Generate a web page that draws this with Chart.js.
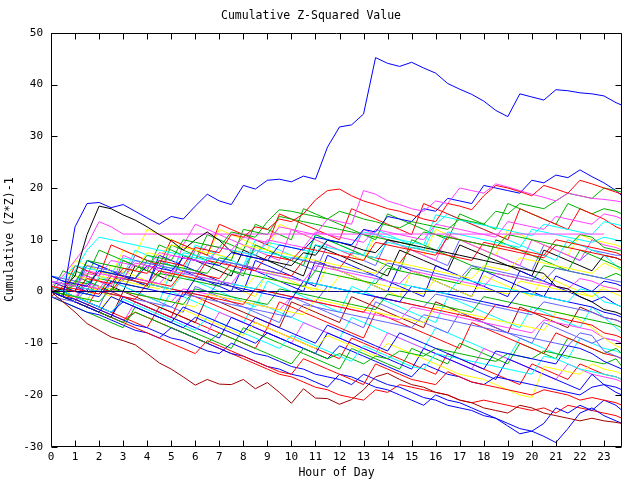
<!DOCTYPE html>
<html>
<head>
<meta charset="utf-8">
<script src="https://cdn.jsdelivr.net/npm/chart.js@4"></script>
<style>
  html, body { margin: 0; padding: 0; background: #fff; }
</style>
</head>
<body>
<canvas id="chart" width="640" height="480"></canvas>
<script>
// sample times (hours), one value every half hour, last one at 23:45
const hours = [0,0.5, 1,1.5, 2,2.5, 3,3.5, 4,4.5, 5,5.5, 6,6.5, 7,7.5, 8,8.5, 9,9.5, 10,10.5, 11,11.5,
  12,12.5, 13,13.5, 14,14.5, 15,15.5, 16,16.5, 17,17.5, 18,18.5, 19,19.5, 20,20.5, 21,21.5, 22,22.5, 23,23.5, 23.75];
const hourTicks = [0,1,2,3,4,5,6,7,8,9,10,11,12,13,14,15,16,17,18,19,20,21,22,23];
const yTicks = [-30,-20,-10,0,10,20,30,40,50];

// cumulative (Z*Z)-1 per sensor
const blueSpike = [0,-1, 12.5,17, 17.2,16.2, 16.8,15.5, 14.2,13, 14.5,14, 16.5,18.8, 17.5,16.8, 20.5,19.8, 21.5,21.7, 21.2,22.3, 21.7,27.9, 31.8,32.2, 34.3,45.2, 44.1,43.5, 44.3,43.2, 42.2,40.2, 39.1,38.1, 36.8,35, 33.8,38.2, 37.6,37, 39,38.8, 38.4,38.2, 37.8,36.5, 36];
const darkRed = [0,-2, -4,-6.2, -7.5,-8.8, -9.5,-10.3, -12,-13.8, -15,-16.5, -18.1,-17, -17.9,-18, -17,-18.8, -17.6,-19.5, -21.6,-18.8, -20.6,-20.7, -21.8,-20.9, -19,-16.5, -15.8,-17, -18,-18.5, -19.5,-20, -21,-21.5, -22.5,-23, -23.5,-22, -22.5,-23.5, -24,-24.5, -25,-24.5, -25,-25.3, -25.5];
const redTop = [1,0.5, 0,2.5, 2,1.5, 4.5,4, 3.5,6, 5.5,5, 8.5,8, 7.5,11, 10.5,12.5, 12,14, 13.5,15, 17.7,19.5, 19.8,18.5, 17.5,16.8, 16,15.5, 14.8,14, 13.5,17, 16.5,15.8, 18.5,20.5, 20,19.3, 18.5,20.5, 19.8,19, 21.5,20.8, 20,19.2, 18.8];
const pinkTop = [2,1.5, 1,4, 3.5,3, 2.5,5.5, 5,4.5, 7,6.5, 6,5.5, 8.5,8, 10.5,10, 9.5,12.5, 12,11.5, 11,14, 13.5,13, 19.5,18.8, 17.5,16.8, 16,15.5, 17.5,17, 20,19.5, 19,20.8, 20.2,19.5, 18.8,18.2, 17.5,19, 18.5,18, 17.8,17.5, 17.3];
const greenTop = [0,-0.5, 1.5,6, 5.5,5, 4.5,4, 7,6.5, 6,10, 9.5,9, 8.5,11.5, 11,10.5, 13.5,15.8, 15.5,15, 14.5,14, 15.5,14.8, 14,13.5, 12.8,12.3, 13.5,13, 12.5,12, 14,13.5, 13,15.5, 15,17, 16.5,16, 17.5,19, 18.5,18, 20,19.5, 19.2];
const blueHigh = [3,2, 1.5,1, 4,3.5, 3,2.5, 5,4.5, 4,6.5, 6,5.5, 5,7.5, 7,6.5, 6,9, 8.5,8, 10.5,10, 9.5,9, 12,11.5, 14.5,14, 13.5,16, 15.5,18, 17.5,17, 20.5,20, 19.5,19, 21.5,21, 22.5,22, 23.5,22.2, 21,19.5, 18.5];
const blackLine = [0,0.5, 3,11, 16.5,16, 14.8,13.8, 12.5,11, 9.8,8, 10,11.5, 9.9,7.7, 7,6.5, 6,5.5, 5,7.5, 7,9.9, 9.5,8.8, 8,7.5, 10,9.5, 9,8.5, 8,7.5, 7,6.5, 6,5.5, 5,4.5, 4,3.5, 1,0.5, -1,-2, -3.5,-4, -4.5];
const pinkFlat = [1,3, 6,9, 13.5,12.5, 11.1,11.1, 11.1,11.1, 11.1,11.1, 11.1,11.1, 11.1,11.1, 11.1,11.1, 11.1,11.1, 11.1,11.1, 11.1,11.1, 11.1,11.1, 11.1,11.1, 11.1,11.1, 11.1,11.1, 11.1,11.1, 11.1,11.1, 11.1,11.1, 11.1,11.1, 11.1,11.1, 11.1,11.1, 11.1,11.1, 11.1];
const navyZero = [0,0, 0,0, 0,0, 0,0, 0,0, 0,0, 0,0, 0,0, 0,0, 0,0, 0,0, 0,0, 0,0, 0,0, 0,0, 0,0, 0,0, 0,0, 0,0, 0,0, 0,0, 0,0, 0,0, 0,0, 0];
const cyanA = [2,1.5, 4,8, 10.5,10, 9.5,9, 8.5,8, 7.5,7, 6.5,6, 8.5,8, 7.5,7, 9.5,9, 8.5,8, 7.5,10, 9.5,9, 11.5,11, 10.5,10, 9.5,9, 14.8,14.3, 13.8,13.3, 12.8,12.3, 11.8,11.3, 10.8,13, 12.5,12, 11.5,11, 13.5,13, 12.7];
const greenA = [0,-0.5, 2,1.5, 4,3.5, 3,2.5, 6,5.5, 5,4.5, 4,3.5, 6.5,6, 12,11.5, 11,14.5, 14,13.5, 13,12.5, 12,11.5, 11,10.5, 10,9.5, 9,11.5, 11,10.5, 10,9.5, 9,8.5, 11,10.5, 10,9.5, 9,8.5, 11,10.5, 8.5,8, 7.8];
const redA = [-1,1, 0.5,0, -0.5,3, 2.5,2, 1.5,4, 3.5,3, 2.5,6, 5.5,5, 4.5,4, 7,6.5, 6,8.5, 8,7.5, 7,6.5, 6,9.5, 9,8.5, 8,7.5, 7,10.5, 10,9.5, 9,8.5, 8,7.5, 7,6.5, 9,8.5, 8,7.5, 7,6.5, 6];
const yellowA = [1,0.5, 3,2.5, 2,5, 4.5,4, 7.5,7, 9,8.5, 8,7.5, 7,6.5, 9,8.5, 8,7.5, 7,6.5, 6,5.5, 5,4.5, 4,3.5, 6,5.5, 5,4.5, 4,3.5, 3,2.5, 5,4.5, 4,6.5, 6,5.5, 5,4.5, 4,3.5, 5.5,4.5, 4];
const slateA = [3,2.5, 2,5, 4.5,4, 3.5,6, 5.5,5, 4.5,4, 3.5,6.5, 6,5.5, 5,4.5, 4,3.5, 6.5,6, 5.5,5, 4.5,4, 3.5,3, 5.5,5, 4.5,4, 3.5,3, 2.5,5, 4.5,4, 3.5,3, 2.5,2, 4.5,4, 3.5,3, 2.5,2, 1.8];
const magentaA = [0,2, 1.5,1, 0.5,3.5, 3,2.5, 2,1.5, 4,3.5, 3,2.5, 2,1.5, 4.5,4, 3.5,3, 2.5,2, 5,4.5, 4,3.5, 3,2.5, 2,1.5, 4,3.5, 3,2.5, 2,1.5, 1,3.5, 3,2.5, 2,1.5, 1,0.5, 2.5,2, 1,0.5, 0];
const cyanB = [2,1.5, 1,0.5, 0,3, 2.5,2, 1.5,1, 0.5,3.5, 3,2.5, 2,1.5, 1,0.5, 3.5,3, 2.5,2, 1.5,1, 0.5,0, -0.5,2.5, 2,1.5, 1,0.5, 0,-0.5, 2.5,2, 1.5,1, 0.5,0, -0.5,-1, -1.5,-2, 0.5,0, -2,-2.5, -3];
const blueA = [1,0.5, 0,-0.5, -1,2, 1.5,1, 0.5,0, -0.5,-1, 2.5,2, 1.5,1, 0.5,0, -0.5,-1, -1.5,2, 1.5,1, 0.5,0, -0.5,-1, -1.5,-2, 1,0.5, 0,-0.5, -1,-1.5, -2,-2.5, -3,0, -0.5,-1, -1.5,-2, -2.5,-3, -4,-4.5, -5];
const greenB = [0,-0.5, -1,-1.5, -2,0.5, 0,-0.5, -1,-1.5, -2,-2.5, 0.5,0, -0.5,-1, -1.5,-2, -2.5,0.5, 0,-0.5, -1,-1.5, -2,-2.5, -3,-3.5, -0.5,-1, -1.5,-2, -2.5,-3, -3.5,-4, -1,-1.5, -2,-2.5, -3,-3.5, -4,-4.5, -5,-5.5, -6,-6.5, -7];
const redB = [2,1.5, 1,0.5, 0,-0.5, -1,-1.5, 1.5,1, 0.5,0, -0.5,-1, -1.5,-2, -2.5,0.5, 0,-0.5, -1,-1.5, -2,-2.5, -3,-3.5, -4,-1, -1.5,-2, -2.5,-3, -3.5,-4, -4.5,-5, -5.5,-2.5, -3,-3.5, -4,-4.5, -5,-5.5, -6,-6.5, -8,-8.5, -9];
const yellowB = [0,-0.5, -1,-1.5, 1,0.5, 0,-0.5, -1,-1.5, -2,-2.5, -3,-0.5, -1,-1.5, -2,-2.5, -3,-3.5, -4,-4.5, -1.5,-2, -2.5,-3, -3.5,-4, -4.5,-5, -5.5,-6, -3,-3.5, -4,-4.5, -5,-5.5, -6,-6.5, -7,-7.5, -4,-4.5, -5.5,-7, -9,-10.5, -11];
const slateB = [-1,-1.5, -2,0.5, 0,-0.5, -1,-1.5, -2,-2.5, -3,-0.5, -1,-1.5, -2,-2.5, -3,-3.5, -4,-4.5, -5,-2.5, -3,-3.5, -4,-4.5, -5,-5.5, -6,-6.5, -7,-4.5, -5,-5.5, -6,-6.5, -7,-7.5, -8,-8.5, -9,-9.5, -10,-10.5, -8,-8.5, -11.5,-12.5, -13];
const blueB = [0,-1, -2,-3, -4,-1, -2,-3, -4,-5, -6,-3, -4,-5, -6,-7, -8,-5, -6,-7, -8,-9, -10,-6.5, -7.5,-8.5, -9.5,-10.5, -11.5,-8, -9,-10, -11,-12, -13,-14, -15,-11.5, -12,-12.5, -13,-13.5, -14,-10.5, -11,-12, -13.5,-14.5, -15];
const cyanC = [1,0, -1,-2, -3,-4, -1.5,-2.5, -3.5,-4.5, -5.5,-6.5, -7.5,-5, -6,-7, -8,-9, -10,-11, -8.5,-9.5, -10.5,-11.5, -12.5,-13.5, -10.5,-11.5, -12.5,-13.5, -14.5,-15, -12,-12.5, -13,-13.5, -14,-14.5, -15,-15.5, -16,-12.5, -13,-14, -15,-15.5, -16,-16.5, -17];
const greenC = [0,-1, -2,-3, -4,-5, -6,-4, -5,-6, -7,-8, -9,-10, -8,-9, -10,-11, -12,-13, -14,-11, -12,-13, -12,-13, -14,-12.5, -13,-11.5, -12,-12.5, -11,-11.5, -12,-12.5, -13,-13.5, -12,-12.5, -13,-11.5, -12,-12.5, -13,-13.5, -14,-13, -14.5];
const redC = [0,-1, -2,-3, -4,-5, -6,-7, -8,-9, -10,-11, -12,-9.5, -10.5,-11.5, -12.5,-13.5, -14.5,-15.5, -16,-13, -14,-15, -16,-17, -18,-14, -15,-16, -17,-17.5, -18,-15.5, -16.5,-17.5, -18,-18.5, -19,-19.5, -20,-19, -19.5,-20, -21,-20.5, -21,-21.5, -22];
const blueLowA = [0,-1, -1.5,-2.5, -3.5,-4.5, -5.5,-6.5, -7,-8, -9,-9.5, -10.5,-11.5, -12,-10, -11,-12, -12.5,-13.5, -14.5,-15, -16,-16.5, -17,-18, -16,-17, -18,-18.5, -19.5,-20.5, -21,-22, -22.5,-23, -24,-24.5, -25.5,-26.5, -27,-28, -29.2,-26.5, -23.5,-22.5, -24,-25, -25.5];
const blueLowB = [-1,-2, -3,-4, -4.5,-5.5, -6.5,-7.5, -8,-9, -7,-8, -9,-10, -11,-12, -12.5,-13.5, -14.5,-15, -16,-16.5, -17.5,-18.5, -16,-16.5, -17.5,-18.5, -19,-20, -21,-22, -20,-21, -21.5,-22.5, -23.5,-24.5, -26,-27.5, -27,-25.5, -22.5,-23.5, -22,-23, -21,-22, -23];
const redLow = [0,-0.5, -1.5,-2.5, -3.5,-4.5, -5.5,-4, -5,-6, -7,-8, -9,-10, -11,-12, -13,-14, -15,-16, -16.5,-17.5, -18.5,-19, -20,-20.5, -21,-19, -19.5,-18, -18.5,-19, -19.5,-20, -21,-21.5, -21,-21.5, -22,-22.5, -23,-22.5, -23.5,-22, -22.5,-23, -23.5,-24, -24.5];
const magentaB = [2,1.5, 1,3.5, 3,6, 5.5,5, 4.5,7.5, 7,6.5, 6,9, 8.5,8, 7.5,7, 10,9.5, 9,8.5, 11.5,11, 10.5,10, 9.5,12, 11.5,11, 10.5,10, 13,12.5, 12,11.5, 11,10.5, 13.5,13, 12.5,12, 14.5,14, 13.5,13, 15,14.5, 14];
const cyanD = [3,2.5, 5,4.5, 4,3.5, 6.5,6, 5.5,5, 4.5,7.5, 7,6.5, 6,5.5, 5,8, 7.5,7, 6.5,6, 9,8.5, 8,7.5, 7,6.5, 9.5,9, 8.5,8, 7.5,11.5, 11,10.5, 10,9.5, 9,8.5, 12,11.5, 11,10.5, 10,9.5, 10.5,10, 9.5];
const redD = [0,2, 1.5,1, 0.5,0, 3,2.5, 2,1.5, 1,4, 3.5,3, 2.5,5.5, 5,4.5, 4,3.5, 3,6, 5.5,5, 4.5,7.5, 7,6.5, 6,5.5, 8.5,8, 7.5,7, 6.5,6, 9.5,9, 8.5,8, 7.5,7, 10,9.5, 9,8.5, 8,7.5, 7];
const greenD = [1,0.5, 0,-0.5, 2.5,2, 1.5,1, 0.5,3.5, 3,2.5, 2,1.5, 1,4, 3.5,3, 2.5,2, 1.5,1, 4,3.5, 3,2.5, 2,1.5, 4.5,4, 3.5,3, 2.5,2, 1.5,4.5, 4,3.5, 3,2.5, 2,5, 4.5,4, 3.5,3, 2.5,3.5, 3];
const yellowC = [2,1.5, 1,3.5, 3,2.5, 2,1.5, 1,0.5, 3.5,3, 2.5,2, 1.5,1, 0.5,3, 2.5,2, 1.5,1, 0.5,0, 3,2.5, 2,1.5, 1,0.5, 0,-0.5, 2.5,2, 1.5,1, 0.5,0, -0.5,2, 1.5,1, 0.5,0, -0.5,-1, 0.5,-0.5, -1];
const slateC = [2,1.5, 1,0.5, 0,-0.5, 2.5,2, 1.5,1, 0.5,0, -0.5,-1, 2,1.5, 1,0.5, 0,-0.5, -1,-1.5, -2,1, 0.5,0, -0.5,-1, -1.5,-2, -2.5,-3, -0.5,-1, -1.5,-2, -2.5,-3, -3.5,-4, -4.5,-2, -2.5,-3, -3.5,-4, -5,-5.5, -6];
const magentaC = [0,-0.5, -1,1.5, 1,0.5, 0,-0.5, -1,-1.5, -2,0.5, 0,-0.5, -1,-1.5, -2,-2.5, -3,-3.5, -1,-1.5, -2,-2.5, -3,-3.5, -4,-4.5, -5,-5.5, -3,-3.5, -4,-4.5, -5,-5.5, -6,-6.5, -7,-7.5, -8,-5.5, -6,-6.5, -7,-7.5, -9,-9.5, -10];
const blueC = [1,0, -1,-2, -3,-4, -2,-3, -4,-5, -6,-7, -5,-6, -7,-8, -9,-10, -8,-9, -10,-11, -12,-13, -10.5,-11.5, -12.5,-13.5, -14.5,-15.5, -16.5,-14, -15,-16, -16.5,-17.5, -18,-16.5, -17,-17.5, -18,-18.5, -19,-19.5, -20,-18.5, -18,-18.5, -19];
const yellowD = [0,-0.5, -1.5,-2.5, -3.5,-1, -2,-3, -4,-5, -6,-3.5, -4.5,-5.5, -6.5,-7.5, -8.5,-6, -7,-8, -9,-10, -11,-8.5, -9.5,-10.5, -11.5,-12.5, -10,-11, -12,-13, -14,-15, -16,-16.5, -17,-18, -19,-20, -20.5,-14.5, -15,-15.5, -16,-14, -15,-15.5, -16];
const redE = [1,0, 5,4, 3,9, 8,7, 6,5, 10,9, 8,7, 13,12, 11,10, 9,15, 14,13, 12,11, 10,16, 15,14, 13,12, 11,17, 16,15, 14,13, 12,11, 10,16, 15,14, 13,12, 16,15, 14,12.5, 12];
const greenE = [0,4, 3,2, 1,0, 6,5, 4,3, 9,8, 7,6, 5,4, 3,9, 8,7, 6,5, 11,10, 9,8, 7,6, 5,4, 10,9, 8,7, 6,5, 4,10, 9,8, 7,6, 5,4, 8,7, 6,5, 4.5];
const blueE = [2,1, 0,6, 5,4, 3,2, 1,7, 6,5, 4,3, 2,1, 0,6, 5,4, 3,2, 1,7, 6,5, 4,3, 2,1, 0,-1, 5,4, 3,2, 1,0, -1,4, 3,2, 1,0, -1,-2, -1,-2.5, -3];
const magentaE = [0,-1, -2,3, 2,1, 7,6, 5,4, 3,9, 13,12, 11,10, 9,8, 7,6, 12,11, 10,9, 8,7, 12,11, 10,9, 8,7, 6,11, 10,9, 8,7, 6,5, 10,9, 8,7, 6,10, 9,8.5, 8];
const cyanE = [1,0, -1,-2, 3,2, 1,0, -1,-2, 4,3, 2,1, 0,-1, -2,-3, 2,1, 0,-1, -2,-3, -4,1, 0,-1, -2,-3, -4,-5, -6,-1, -2,-3, -4,-5, -6,-7, -3,-4, -5,-6, -7,-3, -5,-7, -8];
const redF = [0,-1, -2,-3, 1,0, -1,-2, -3,-4, -5,0, -1,-2, -3,-4, -5,-6, -7,-2, -3,-4, -5,-6, -7,-8, -9,-4, -5,-6, -7,-8, -9,-10, -11,-6, -7,-8, -9,-10, -11,-12, -8,-9, -10,-11, -12,-12.5, -13];
const yellowE = [-1,-2, 2,1, 0,-1, 4,3, 2,1, 0,5, 4,3, 2,1, 0,-1, 4,3, 2,1, 0,5, 4,3, 2,1, 0,-1, 4,3, 2,1, 0,-1, 3,2, 1,0, -1,3, 2,1, 0,-1, 1,0.5, 0];
const slateE = [1,0, -1,-2, -3,2, 1,0, -1,-2, -3,-4, 1,0, -1,-2, -3,-4, -5,-6, -1,-2, -3,-4, -5,-6, -7,-2, -3,-4, -5,-6, -7,-8, -4,-5, -6,-7, -8,-9, -10,-6, -7,-8, -9,-10, -9,-9.5, -10];
const greenF = [0,-1, 4,3, 8,7, 6,5, 4,9, 8,7, 6,11, 10,9, 8,13, 12,11, 10,16, 15,14, 13,12, 11,10, 15,14, 13,12, 11,10, 15,14, 13,12, 17,16, 15,14, 13,17, 16,15, 16,15.5, 15];
const blueF = [0,-1, -2,-3, -4,-5, -1,-2, -3,-4, -5,-6, -7,-8, -9,-5, -6,-7, -8,-9, -10,-11, -12,-8, -9,-10, -11,-12, -13,-14, -15,-11, -12,-13, -14,-15, -16,-17, -13,-14, -15,-16, -17,-18, -19,-16, -18,-19.5, -20];
const cyanF = [3,2, 1,6, 5,4, 3,8, 7,6, 5,4, 9,8, 7,6, 5,10, 9,8, 7,6, 11,10, 9,8, 7,12, 11,10, 9,8, 13,15, 14,13, 12,11, 10,9, 8,7, 6,10, 9,8, 7,5, 4];
const darkRedB = [0,-1, -2,-3, -4,-5, 0,-1, -2,-3, -4,-5, -6,-1, -2,-3, -4,-5, -6,-7, -2,-3, -4,-5, -6,-1, -2,-3, -4,-5, -6,-7, -2,-3, -4,-5, -6,-7, -8,-3, -4,-5, -6,-7, -3,-4, -5,-5.5, -6];
const blackB = [0,-1, -2,3, 2,1, 0,5, 4,3, 2,7, 6,5, 4,3, 8,7, 6,5, 4,3, 9,8, 7,6, 5,4, 3,8, 7,6, 5,4, 9,8, 7,6, 5,4, 3,8, 7,6, 5,4, 7,6.5, 6];
const magentaF = [0,-1, -2,-3, -4,-5, -6,-2, -3,-4, -5,-6, -7,-8, -4,-5, -6,-7, -8,-9, -10,-6, -7,-8, -9,-10, -11,-12, -8,-9, -10,-11, -12,-13, -14,-15, -11,-12, -13,-14, -15,-16, -17,-14, -15,-16, -16.5,-17, -17.5];
const yellowF = [2,1, 6,5, 4,3, 8,7, 12,11, 10,9, 8,7, 12,11, 10,9, 8,13, 12,11, 10,9, 8,7, 6,11, 10,9, 8,7, 12,11, 10,9, 8,7, 12,11, 10,9, 8,7, 11,10, 9.5,9, 8.5];
const greenG = [-1,-2, -3,-4, -5,-6, -7,-3, -4,-5, -6,-7, -8,-9, -10,-11, -7,-8, -9,-10, -11,-12, -13,-14, -15,-11, -12,-13, -14,-15, -11,-12, -13,-14, -10,-11, -12,-13, -14,-10, -11,-12, -13,-9, -10,-11, -12,-11, -12];
const redG = [1,0, -1,-2, -3,-4, -5,-6, -7,-3, -4,-5, -6,-7, -8,-9, -10,-11, -7,-8, -9,-10, -11,-12, -13,-9, -10,-11, -12,-13, -14,-15, -16,-12, -13,-14, -15,-16, -17,-18, -14,-15, -16,-17, -14,-15, -16,-16.5, -17];
const slateF = [2,1, 0,5, 4,3, 2,7, 6,5, 4,3, 8,7, 6,5, 4,9, 8,7, 6,5, 4,9, 8,7, 6,5, 10,9, 8,7, 6,5, 10,9, 8,7, 6,5, 4,9, 8,7, 6,8, 7.5,7, 7];
const blueG = [3,2, 1,0, 5,4, 3,2, 1,6, 5,4, 3,2, 1,0, 5,4, 3,2, 1,0, 6,5, 4,3, 2,1, 0,5, 4,3, 2,1, 0,-1, 4,3, 2,1, 0,-1, 3,2, 1,0, 2,1.5, 1];
const cyanG = [0,-1, -2,2, 1,0, -1,-2, -3,-4, 0,-1, -2,-3, -4,-5, -6,-2, -3,-4, -5,-6, -7,-8, -9,-5, -6,-7, -8,-9, -10,-11, -7,-8, -9,-10, -11,-12, -13,-9, -10,-11, -12,-13, -9,-10, -11,-11.5, -12];

const series = [
  [blueSpike, '#0000ff'], [darkRed, '#a00000'], [redTop, '#ff0000'], [pinkTop, '#ff40ff'],
  [greenTop, '#00b000'], [blueHigh, '#0000ff'], [blackLine, '#000000'], [pinkFlat, '#ff40ff'],
  [navyZero, '#000080'], [cyanA, '#00ffff'], [greenA, '#00b000'], [redA, '#ff0000'],
  [yellowA, '#ffff00'], [slateA, '#6060ff'], [magentaA, '#ff40ff'], [cyanB, '#00ffff'],
  [blueA, '#0000ff'], [greenB, '#00b000'], [redB, '#ff0000'], [yellowB, '#ffff00'],
  [slateB, '#6060ff'], [blueB, '#0000ff'], [cyanC, '#00ffff'], [greenC, '#00b000'],
  [redC, '#ff0000'], [blueLowA, '#0000ff'], [blueLowB, '#0000ff'], [redLow, '#ff0000'],
  [magentaB, '#ff40ff'], [cyanD, '#00ffff'], [redD, '#ff0000'], [greenD, '#00b000'],
  [yellowC, '#ffff00'], [slateC, '#6060ff'], [magentaC, '#ff40ff'], [blueC, '#0000ff'],
  [yellowD, '#ffff00'], [redE, '#ff0000'], [greenE, '#00b000'], [blueE, '#0000ff'],
  [magentaE, '#ff40ff'], [cyanE, '#00ffff'], [redF, '#ff0000'], [yellowE, '#ffff00'],
  [slateE, '#6060ff'], [greenF, '#00b000'], [blueF, '#0000ff'], [cyanF, '#00ffff'],
  [darkRedB, '#a00000'], [blackB, '#000000'], [magentaF, '#ff40ff'], [yellowF, '#ffff00'],
  [greenG, '#00b000'], [redG, '#ff0000'], [slateF, '#6060ff'], [blueG, '#0000ff'],
  [cyanG, '#00ffff']
];

const FONT = 'DejaVu Sans Mono';

// gnuplot style border with inward ticks on all four sides
const frame = {
  id: 'frame',
  afterDatasetsDraw(chart) {
    const {ctx, chartArea: a, scales: {x, y}} = chart;
    const L = Math.round(a.left) + 0.5, R = Math.round(a.right) - 0.5;
    const T = Math.round(a.top) + 0.5, B = Math.round(a.bottom) - 0.5;
    ctx.save();
    ctx.strokeStyle = '#000';
    ctx.lineWidth = 1;
    ctx.beginPath();
    ctx.rect(L, T, R - L, B - T);
    hourTicks.forEach(h => {
      const px = Math.round(x.getPixelForValue(h)) + 0.5;
      ctx.moveTo(px, B); ctx.lineTo(px, B - 6);
      ctx.moveTo(px, T); ctx.lineTo(px, T + 6);
    });
    yTicks.forEach(v => {
      const py = Math.round(y.getPixelForValue(v)) + 0.5;
      ctx.moveTo(L, py); ctx.lineTo(L + 6, py);
      ctx.moveTo(R, py); ctx.lineTo(R - 6, py);
    });
    ctx.stroke();
    ctx.restore();
  }
};

new Chart(document.getElementById('chart'), {
  type: 'line',
  data: {
    datasets: series.map(([vals, color]) => ({
      data: vals.map((v, i) => ({x: hours[i], y: v})),
      borderColor: color,
      borderWidth: 1,
      pointRadius: 0,
      tension: 0,
      fill: false
    }))
  },
  options: {
    responsive: false,
    animation: false,
    layout: { padding: { top: 0, right: 18, bottom: 0, left: 0 } },
    plugins: {
      legend: { display: false },
      tooltip: { enabled: false },
      title: {
        display: true,
        text: 'Cumulative Z-Squared Value',
        color: '#000',
        font: { family: FONT, size: 11.5, weight: 'normal' },
        padding: { top: 9, bottom: 10 }
      }
    },
    scales: {
      x: {
        type: 'linear',
        min: 0,
        max: 23.75,
        afterBuildTicks: s => { s.ticks = hourTicks.map(v => ({value: v})); },
        afterFit: s => { s.height = 33.3; },
        grid: { display: false, drawTicks: false },
        border: { display: false },
        ticks: { color: '#000', padding: 4, maxRotation: 0, autoSkip: false, font: { family: FONT, size: 11 } },
        title: { display: true, text: 'Hour of Day', color: '#000', padding: { top: 0, bottom: 0 }, font: { family: FONT, size: 11.5 } }
      },
      y: {
        min: -30,
        max: 50,
        afterBuildTicks: s => { s.ticks = yTicks.map(v => ({value: v})); },
        afterFit: s => { s.width = 51; },
        grid: { display: false, drawTicks: false },
        border: { display: false },
        ticks: { color: '#000', padding: 8, font: { family: FONT, size: 11 } },
        title: { display: true, text: 'Cumulative (Z*Z)-1', color: '#000', padding: { top: 3, bottom: 0 }, font: { family: FONT, size: 11.5 } }
      }
    }
  },
  plugins: [frame]
});
</script>
</body>
</html>
